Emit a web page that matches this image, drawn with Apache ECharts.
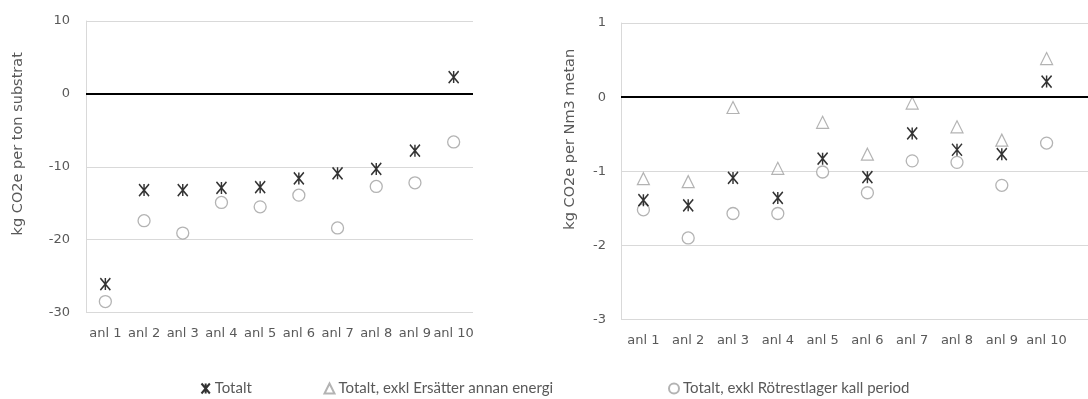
<!DOCTYPE html>
<html>
<head>
<meta charset="utf-8">
<script src="https://cdn.jsdelivr.net/npm/echarts@6/dist/echarts.min.js"></script>
<style>
  html, body {margin: 0; padding: 0; background: #fff;}
  #chart {width: 1088px; height: 399px;}
</style>
</head>
<body>
<div id="chart"></div>
<script>
var categories = ['anl 1', 'anl 2', 'anl 3', 'anl 4', 'anl 5', 'anl 6', 'anl 7', 'anl 8', 'anl 9', 'anl 10'];

// kg CO2e per ton substrat
var tonTotalt = [-26.1, -13.2, -13.2, -12.9, -12.8, -11.6, -10.9, -10.3, -7.8, 2.3];
var tonExklRotrest = [-28.5, -17.4, -19.1, -14.9, -15.5, -13.9, -18.4, -12.7, -12.2, -6.6];

// kg CO2e per Nm3 metan
var nmTotalt = [-1.39, -1.46, -1.09, -1.36, -0.83, -1.08, -0.49, -0.71, -0.77, 0.21];
var nmExklEnergi = [-1.10, -1.14, -0.14, -0.96, -0.34, -0.77, -0.08, -0.40, -0.58, 0.52];
var nmExklRotrest = [-1.52, -1.90, -1.57, -1.57, -1.01, -1.29, -0.86, -0.88, -1.19, -0.62];

var names = ['Totalt', 'Totalt, exkl Ersätter annan energi', 'Totalt, exkl Rötrestlager kall period'];

var starPath = 'path://M0,0L10,12M10,0L0,12M5,0L5,12';
var gridColor = '#d9d9d9';
var textColor = '#595959';
var markerGrey = '#a0a0a0';

var myChart = echarts.init(document.getElementById('chart'));

var zeroLine = {
  silent: true,
  symbol: ['none', 'none'],
  label: {show: false},
  lineStyle: {color: '#000', width: 2, type: 'solid'},
  emphasis: {disabled: true},
  data: [{yAxis: 0}]
};

var starStyle = {
  symbol: starPath,
  symbolSize: [10, 12],
  itemStyle: {color: 'none', borderColor: '#000', borderWidth: 1.6}
};
var triStyle = {
  symbol: 'triangle',
  symbolSize: 12,
  itemStyle: {color: 'none', borderColor: markerGrey, borderWidth: 1.2}
};
var circStyle = {
  symbol: 'circle',
  symbolSize: 12,
  itemStyle: {color: '#fff', borderColor: markerGrey, borderWidth: 1.3}
};

var labelFont = {color: textColor, fontFamily: 'DejaVu Sans', fontSize: 13};

function catAxis(grid) {
  return {
    type: 'category',
    gridIndex: grid,
    data: categories,
    boundaryGap: true,
    axisLine: {show: false},
    axisTick: {show: false},
    axisLabel: Object.assign({margin: 15, interval: 0}, labelFont)
  };
}

myChart.setOption({
  animation: false,
  textStyle: {fontFamily: 'DejaVu Sans'},
  grid: [
    {left: 86, width: 387, top: 21, bottom: 399 - 312.5},
    {left: 621, width: 448, top: 23, bottom: 399 - 319.5},
    {left: 621, right: -2, top: 23, bottom: 399 - 319.5}
  ],
  legend: [
    {data: [names[0]], left: 199, top: 381},
    {data: [names[1]], left: 322, top: 381},
    {data: [names[2]], left: 668, top: 381}
  ].map(function (l) {
    return Object.assign(l, {
      itemWidth: 10, itemHeight: 10, itemGap: 4, padding: 0,
      textStyle: {color: textColor, fontFamily: 'Lato', fontSize: 15, padding: [0, 0, 0, -1]}
    });
  }),
  xAxis: [
    catAxis(0),
    catAxis(1),
    {type: 'value', gridIndex: 2, show: false, min: 0, max: 1}
  ],
  yAxis: [
    {
      type: 'value', gridIndex: 0, min: -30, max: 10, interval: 10,
      axisLine: {show: true, lineStyle: {color: gridColor}},
      axisTick: {show: false},
      splitLine: {lineStyle: {color: gridColor}},
      axisLabel: Object.assign({margin: 16}, labelFont),
      name: 'kg CO2e per ton substrat',
      nameLocation: 'middle',
      nameGap: 60,
      nameTextStyle: {color: textColor, fontFamily: 'DejaVu Sans', fontSize: 14.5, padding: [0, 0, 0, 46]}
    },
    {
      type: 'value', gridIndex: 1, min: -3, max: 1, interval: 1,
      axisLine: {show: false},
      axisTick: {show: false},
      splitLine: {show: false},
      axisLabel: Object.assign({margin: 15}, labelFont),
      name: 'kg CO2e per Nm3 metan',
      nameLocation: 'middle',
      nameGap: 43,
      nameTextStyle: {color: textColor, fontFamily: 'DejaVu Sans', fontSize: 14.5, padding: [0, 0, 0, 64]}
    },
    {
      type: 'value', gridIndex: 2, min: -3, max: 1, interval: 1,
      axisLine: {show: true, lineStyle: {color: gridColor}},
      axisTick: {show: false},
      axisLabel: {show: false},
      splitLine: {lineStyle: {color: gridColor}}
    }
  ],
  series: [
    Object.assign({name: names[2], type: 'scatter', xAxisIndex: 0, yAxisIndex: 0, data: tonExklRotrest, markLine: zeroLine, z: 2}, circStyle),
    Object.assign({name: names[0], type: 'scatter', xAxisIndex: 0, yAxisIndex: 0, data: tonTotalt, z: 3}, starStyle),
    {type: 'scatter', xAxisIndex: 2, yAxisIndex: 2, data: [], markLine: zeroLine, z: 1},
    Object.assign({name: names[2], type: 'scatter', xAxisIndex: 1, yAxisIndex: 1, data: nmExklRotrest, z: 2}, circStyle),
    Object.assign({name: names[1], type: 'scatter', xAxisIndex: 1, yAxisIndex: 1, data: nmExklEnergi, z: 3}, triStyle),
    Object.assign({name: names[0], type: 'scatter', xAxisIndex: 1, yAxisIndex: 1, data: nmTotalt, z: 4}, starStyle)
  ]
});
</script>
</body>
</html>
